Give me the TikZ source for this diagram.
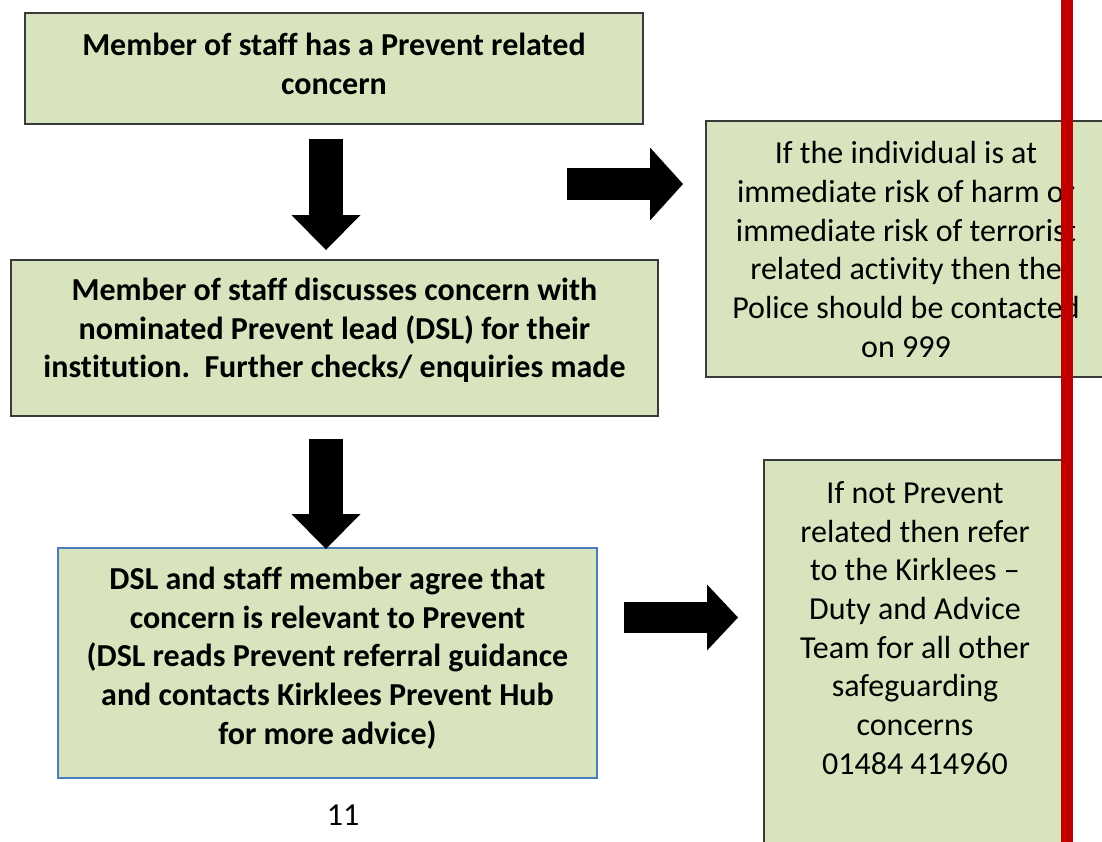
\documentclass[tikz,border=0pt]{standalone}
\usepackage{fontspec}
\setmainfont{Carlito}[Ligatures=NoCommon]
\usetikzlibrary{arrows.meta}
\definecolor{boxfill}{HTML}{D7E4BD}
\definecolor{boxline}{HTML}{3A3A3A}
\definecolor{blueline}{HTML}{4A7EBB}
\definecolor{redbar}{HTML}{C00000}
\tikzset{
  x=1pt,y=-1pt,
  txt/.style={align=center,inner sep=0pt,font=\fontsize{32}{38.7}\selectfont},
  boldtxt/.style={txt,font=\fontsize{32}{38.7}\selectfont\bfseries},
  greenbox/.style={fill=boxfill,draw=boxline,line width=1.3pt},
  bluebox/.style={fill=boxfill,draw=blueline,line width=1.3pt},
  downarrow/.style={line width=34pt,-{Triangle[width=69pt,length=35pt,line width=0pt]}},
  rightarrowA/.style={line width=32pt,-{Triangle[width=73pt,length=33pt,line width=0pt]}},
  rightarrowB/.style={line width=31pt,-{Triangle[width=66pt,length=31pt,line width=0pt]}},
}
\begin{document}
\begin{tikzpicture}
\useasboundingbox (0,0) rectangle (1102,841);
\clip (0,0) rectangle (1102,841);
\fill[white] (0,0) rectangle (1102,841);
% boxes
\draw[greenbox] (25,13) rectangle (643,124);
\node[boldtxt] (b1) at (334,64) {Member of staff has a Prevent related\\concern};
\draw[greenbox] (11,260) rectangle (658,416);
\node[boldtxt] (b2) at (334.5,330.5) {Member of staff discusses concern with\\nominated Prevent lead (DSL) for their\\institution.\ \ Further checks/ enquiries made};
\draw[bluebox] (58,548) rectangle (597,778);
\node[boldtxt] (b3) at (327.5,658) {DSL and staff member agree that\\concern is relevant to Prevent\\(DSL reads Prevent referral guidance\\and contacts Kirklees Prevent Hub\\for more advice)};
\draw[greenbox] (706,121) rectangle (1120,377);
\node[txt] (b4) at (906,249.5) {If the individual is at\\immediate risk of harm or\\immediate risk of terrorist\\related activity then the\\Police should be contacted\\on 999};
\draw[greenbox] (764,460) rectangle (1066,900);
\node[txt] (b5) at (915,628) {If not Prevent\\related then refer\\to the Kirklees --\\Duty and Advice\\Team for all other\\safeguarding\\concerns\\01484 414960};
% arrows
\coordinate (a1s) at (326,139);
\coordinate (a1e) at (326,250);
\draw[downarrow] (a1s) -- (a1e);
\coordinate (a2s) at (326,439);
\coordinate (a2e) at (326,549);
\draw[downarrow] (a2s) -- (a2e);
\coordinate (a3s) at (567,184);
\coordinate (a3e) at (683,184);
\draw[rightarrowA] (a3s) -- (a3e);
\coordinate (a4s) at (624,617.5);
\coordinate (a4e) at (738,617.5);
\draw[rightarrowB] (a4s) -- (a4e);
% page number
\node[txt] (pg) at (343,815) {11};
% red bar
\fill[redbar] (1061,-5) rectangle (1073,850);
\end{tikzpicture}
\end{document}
